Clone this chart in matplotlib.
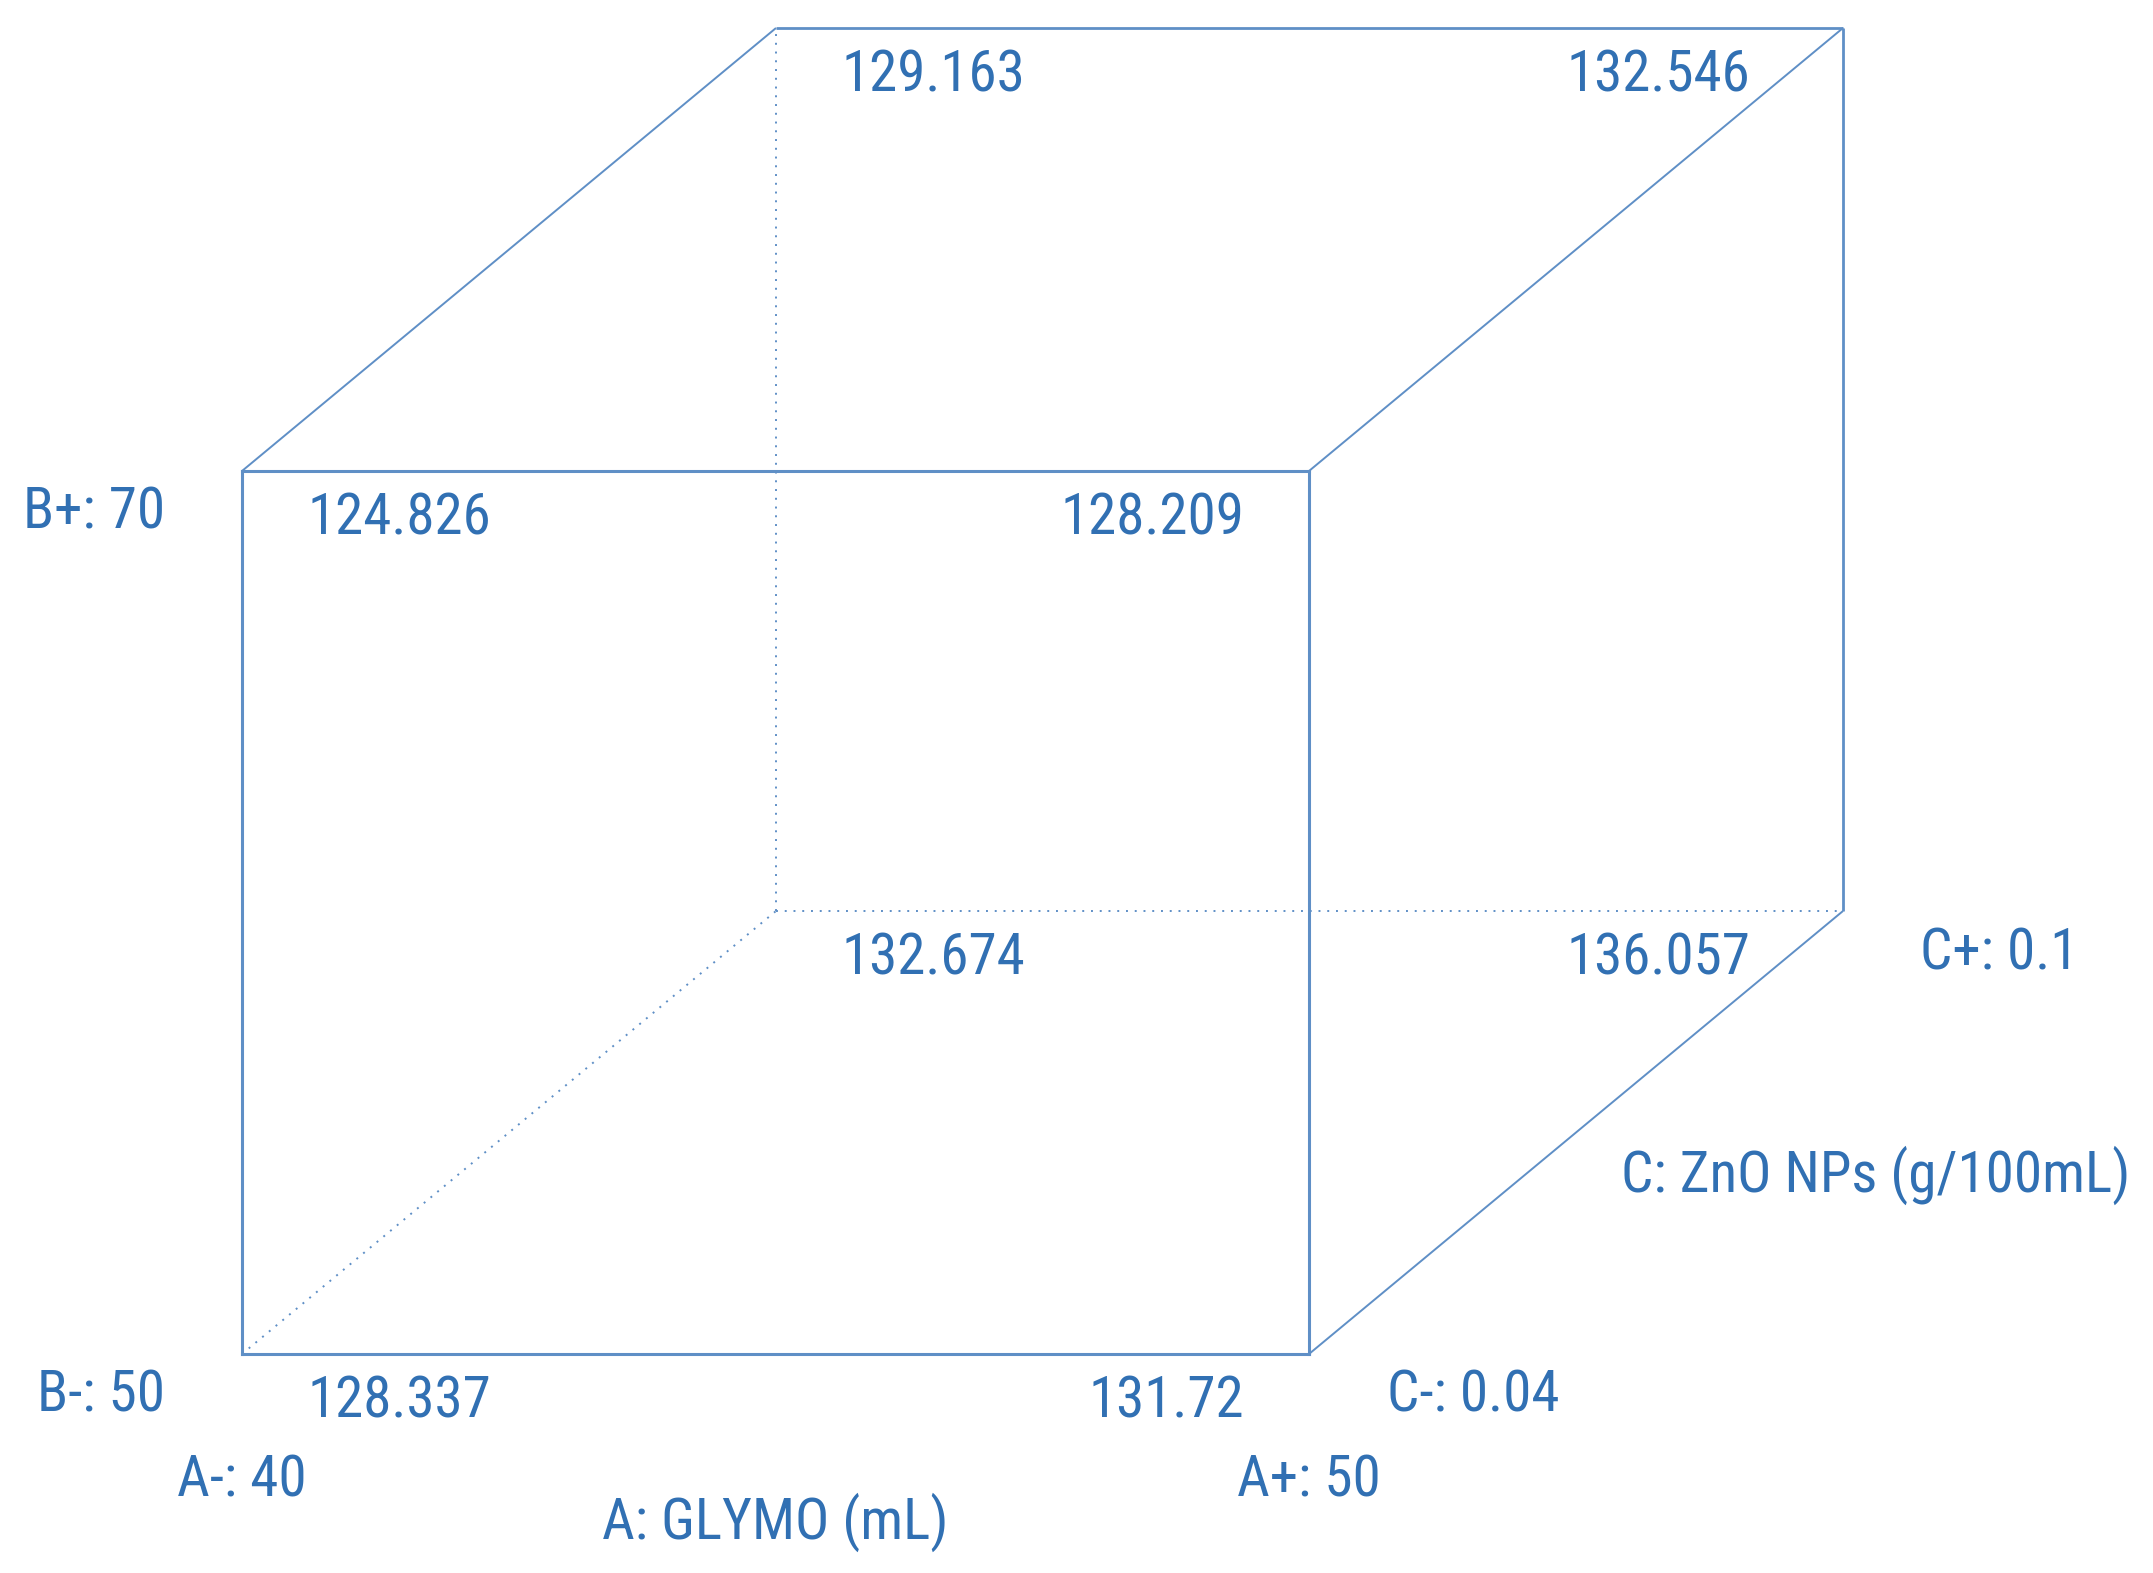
import numpy as np
import matplotlib.pyplot as plt

# Factor levels (coded -1 / +1) and their real values
A_LEVELS = ["40", "50"]
B_LEVELS = ["50", "70"]
C_LEVELS = ["0.04", "0.1"]
A_NAME = "A: GLYMO (mL)"
C_NAME = "C: ZnO NPs (g/100mL)"

# response at each corner: (a, b, c) coded levels
CORNER_A = [-1, 1, -1, 1, -1, 1, -1, 1]
CORNER_B = [-1, -1, 1, 1, -1, -1, 1, 1]
CORNER_C = [-1, -1, -1, -1, 1, 1, 1, 1]
RESPONSE = ["128.337", "131.72", "124.826", "128.209",
            "132.674", "136.057", "129.163", "132.546"]

# projection of the cube (pixels)
W, H = 1067, 883          # front face size
DX, DY = 534, 443         # depth offset for C
X0, Y0 = 242, 219         # front bottom-left corner from figure bottom-left

TXT = "#3170B3"
LINE = "#5F8FC6"
FONT = ["Roboto Condensed", "Liberation Sans", "DejaVu Sans"]
FS = 41
SHIFT = 5  # nudge all text down a bit

def proj(a, b, c):
    u, v, w = (a + 1) / 2, (b + 1) / 2, (c + 1) / 2
    return u * W + w * DX, v * H + w * DY


def label(x, y, s, ha):
    ax.text(x, y - SHIFT, s, ha=ha, va="center", color=TXT,
            fontsize=FS, family=FONT)


fig = plt.figure(figsize=(21.53, 15.73), dpi=100)
ax = fig.add_axes([0, 0, 1, 1])
ax.set_xlim(-X0, 2153 - X0)
ax.set_ylim(-Y0, 1573 - Y0)
ax.axis("off")

# edges: pairs of corners (a,b,c), style
edges_solid_thick = [((-1, -1, -1), (1, -1, -1)), ((1, -1, -1), (1, 1, -1)),
                     ((1, 1, -1), (-1, 1, -1)), ((-1, 1, -1), (-1, -1, -1))]
edges_solid_thin = [((-1, 1, 1), (1, 1, 1)), ((1, 1, 1), (1, -1, 1)),
                    ((-1, 1, -1), (-1, 1, 1)), ((1, 1, -1), (1, 1, 1)),
                    ((1, -1, -1), (1, -1, 1))]
edges_dotted = [((-1, -1, 1), (-1, 1, 1)), ((-1, -1, 1), (1, -1, 1)),
                ((-1, -1, -1), (-1, -1, 1))]

for p, q in edges_dotted:
    (x1, y1), (x2, y2) = proj(*p), proj(*q)
    ax.plot([x1, x2], [y1, y2], color=LINE, lw=1.4, ls=(0, (1, 3.5)), zorder=1)
for p, q in edges_solid_thin:
    (x1, y1), (x2, y2) = proj(*p), proj(*q)
    lw = 2.0 if p[2] == q[2] else 1.4
    ax.plot([x1, x2], [y1, y2], color=LINE, lw=lw, solid_capstyle="butt", zorder=2)
for p, q in edges_solid_thick:
    (x1, y1), (x2, y2) = proj(*p), proj(*q)
    ax.plot([x1, x2], [y1, y2], color=LINE, lw=2.2, solid_capstyle="projecting", zorder=3)

# corner responses
for a, b, c, val in zip(CORNER_A, CORNER_B, CORNER_C, RESPONSE):
    x, y = proj(a, b, c)
    if a < 0:
        label(x + 65, y - 43, val, "left")
    else:
        off = 65 if c < 0 else 93
        label(x - off, y - 43, val, "right")

# factor labels
x, y = proj(-1, 1, -1)
label(x - 77, y - 37, f"B+: {B_LEVELS[1]}", "right")
x, y = proj(-1, -1, -1)
label(x - 77, y - 37, f"B-: {B_LEVELS[0]}", "right")
label(x, y - 122, f"A-: {A_LEVELS[0]}", "center")
x, y = proj(1, -1, -1)
label(x, y - 122, f"A+: {A_LEVELS[1]}", "center")
label(x + 78, y - 37, f"C-: {C_LEVELS[0]}", "left")
x, y = proj(0, -1, -1)
label(x, y - 163, A_NAME, "center")
x, y = proj(1, -1, 1)
label(x + 77, y - 38, f"C+: {C_LEVELS[1]}", "left")
x, y = proj(1, -1, 0)
label(x + 45, y - 38, C_NAME, "left")

fig.savefig("out.png", dpi=100)
